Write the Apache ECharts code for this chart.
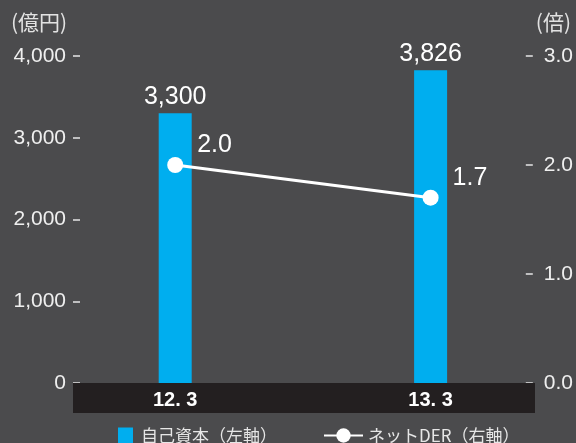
<!DOCTYPE html>
<html><head><meta charset="utf-8">
<script src="https://cdn.jsdelivr.net/npm/echarts@6/dist/echarts.min.js"></script>
<style>html,body{margin:0;padding:0;background:#4b4b4d}#c{width:576px;height:443px}</style>
</head><body><div id="c"></div>
<script>
const categories = ['12. 3', '13. 3'];
const equity = [3300, 3826];
const netDER = [2.0, 1.7];
const seriesNames = ['自己資本（左軸）', 'ネットDER（右軸）'];
const unitLeft = '(億円)';
const unitRight = '(倍)';

const numFont = 'Liberation Sans, Roboto, Arial, sans-serif';
const cjkFont = 'Noto Sans CJK JP, sans-serif';
const chart = echarts.init(document.getElementById('c'));
chart.setOption({
  backgroundColor: '#4b4b4d',
  animation: false,
  title: [
    {text: unitLeft, left: 11, top: 12, padding: 0, textStyle: {color: '#e2e2e2', fontSize: 21, fontWeight: 'normal', fontFamily: cjkFont}},
    {text: unitRight, right: 5, top: 12, padding: 0, textStyle: {color: '#e2e2e2', fontSize: 21, fontWeight: 'normal', fontFamily: cjkFont}}
  ],
  grid: {left: 47.5, right: 16.5, top: 56, bottom: 60},
  graphic: [{type: 'rect', z: 2, shape: {x: 73, y: 383, width: 462, height: 30}, style: {fill: '#231f20'}}],
  legend: [
    {data: [seriesNames[0]], left: 118, top: 427, padding: 0, itemWidth: 15, itemHeight: 16, icon: 'rect',
     textStyle: {color: '#e6e6e6', fontSize: 17, fontFamily: cjkFont, padding: [0, 0, 0, 3]}},
    {data: [seriesNames[1]], left: 323, top: 427, padding: 0, itemWidth: 39, itemHeight: 18,
     textStyle: {color: '#e6e6e6', fontSize: 17, fontFamily: cjkFont, padding: [0, 0, 0, 0]}}
  ],
  xAxis: {
    type: 'category', data: categories, z: 3,
    axisLine: {show: false}, axisTick: {show: false},
    axisLabel: {color: '#ffffff', fontSize: 20, fontWeight: 'bold', fontFamily: numFont, margin: 7, lineHeight: 20}
  },
  yAxis: [
    {type: 'value', min: 0, max: 4000, interval: 1000, offset: -32.5, z: 1,
     axisLine: {show: false}, splitLine: {show: false},
     axisTick: {show: true, length: 7, lineStyle: {color: '#e6e6e6', width: 1.5}},
     axisLabel: {color: '#efefef', fontSize: 21, fontFamily: numFont, margin: 14, padding: [0, 0, 9, 0],
       formatter: v => v.toLocaleString('en-US')}},
    {type: 'value', min: 0, max: 3, interval: 1, offset: -32.5, z: 1,
     axisLine: {show: false}, splitLine: {show: false},
     axisTick: {show: true, length: 7, lineStyle: {color: '#e6e6e6', width: 1.5}},
     axisLabel: {color: '#efefef', fontSize: 21, fontFamily: numFont, margin: 18, padding: [0, 0, 9, 0],
       formatter: v => v.toFixed(1)}}
  ],
  series: [
    {name: seriesNames[0], type: 'bar', data: equity, barWidth: 33, yAxisIndex: 0,
     itemStyle: {color: '#00aeef'},
     label: {show: true, position: 'top', distance: 4, color: '#ffffff', fontSize: 25, fontFamily: numFont,
       formatter: p => p.value.toLocaleString('en-US')}},
    {name: seriesNames[1], type: 'line', data: netDER, yAxisIndex: 1, z: 5,
     lineStyle: {color: '#ffffff', width: 3}, itemStyle: {color: '#ffffff'},
     symbol: 'circle', symbolSize: 16,
     label: {show: true, position: 'right', distance: 14, offset: [0, -20], color: '#ffffff', fontSize: 25, fontFamily: numFont,
       formatter: p => p.value.toFixed(1)}}
  ]
});
</script></body></html>
